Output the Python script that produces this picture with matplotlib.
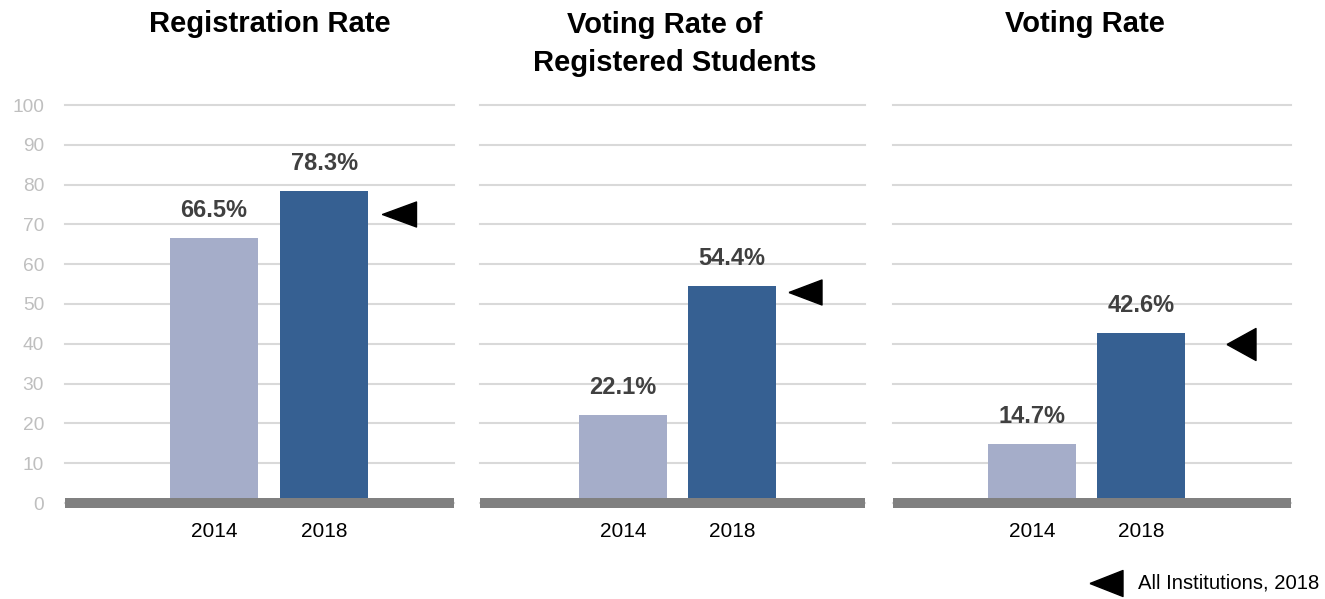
import matplotlib
matplotlib.use("Agg")
import matplotlib.pyplot as plt
from matplotlib.lines import Line2D

plt.rcParams['font.family'] = ['Liberation Sans', 'DejaVu Sans']

# ---- data ----
titles = ["Registration Rate", "Voting Rate of\nRegistered Students", "Voting Rate"]
years = ["2014", "2018"]
rates_2014 = [66.5, 22.1, 14.7]
rates_2018 = [78.3, 54.4, 42.6]
all_institutions_2018 = [72.5, 53.1, 39.9]
legend_label = "All Institutions, 2018"
yticks = list(range(0, 101, 10))

# ---- style ----
W, H = 1325, 599
C14 = "#A5ADC9"
C18 = "#366092"
GRID = "#D9D9D9"
ZERO = "#808080"
PX = 72 / 100  # points per pixel at dpi 100

fig = plt.figure(figsize=(W / 100, H / 100), dpi=100)

ax_px = [(65, 389), (480, 385), (893, 398)]
xlims = [(-1.355, 2.18), (-1.31, 2.22), (-1.275, 2.376)]
tri_x = [1.68, 1.67, 1.92]
tri_shape = [(34, 25), (33, 25), (29, 32)]  # width, height px
title_centers = [[(270, 32)], [(665, 33), (675, 71)], [(1085, 32)]]

def tri_marker(w, h):
    m = max(w, h)
    a, b = w / m, h / m
    return [(-a, 0), (a, b), (a, -b), (-a, 0)], m * PX

top_px, bot_px = 105, 503
for i in range(3):
    left, width = ax_px[i]
    ax = fig.add_axes([left / W, 1 - bot_px / H, width / W, (bot_px - top_px) / H])
    x = [0, 1]
    vals = [rates_2014[i], rates_2018[i]]
    ax.bar(x, vals, width=0.8, color=[C14, C18], zorder=2)
    for xi, v in zip(x, vals):
        ax.annotate(f"{v:.1f}%", (xi, v), xytext=(0, 28 * PX), textcoords="offset points",
                    ha="center", va="center", fontsize=17, fontweight="bold", color="#404040")
    verts, ms = tri_marker(*tri_shape[i])
    ax.plot([tri_x[i]], [all_institutions_2018[i]], marker=verts, markersize=ms,
            color="black", linestyle="none", zorder=4, clip_on=False)
    ax.set_xlim(*xlims[i])
    ax.set_ylim(0, 100)
    ax.set_yticks(yticks)
    ax.grid(axis="y", color=GRID, linewidth=1.5)
    for gl in ax.get_ygridlines():
        gl.set_clip_on(False)
    ax.set_axisbelow(True)
    ax.axhline(0, color=ZERO, linewidth=10 * PX, zorder=3, clip_on=False, solid_capstyle="butt")
    for s in ax.spines.values():
        s.set_visible(False)
    ax.set_xticks(x)
    ax.set_xticklabels(years, fontsize=15, color="black")
    ax.tick_params(axis="x", length=0, pad=19 * PX)
    if i == 0:
        ax.tick_params(axis="y", length=0, pad=21 * PX, labelsize=13.8, labelcolor="#BFBFBF")
    else:
        ax.tick_params(axis="y", length=0, labelleft=False)
    for line, (cx, by) in zip(titles[i].split("\n"), title_centers[i]):
        fig.text(cx / W, 1 - by / H, line, ha="center", va="baseline",
                 fontsize=21, fontweight="bold", color="black")

# legend
verts, ms = tri_marker(33, 26)
fig.add_artist(Line2D([1106 / W], [1 - 583 / H], transform=fig.transFigure, marker=verts,
                      markersize=ms, color="black", linestyle="none"))
fig.text(1138 / W, 1 - 583 / H, legend_label, ha="left", va="center", fontsize=14.6, color="black")

fig.savefig("out.png", dpi=100)
